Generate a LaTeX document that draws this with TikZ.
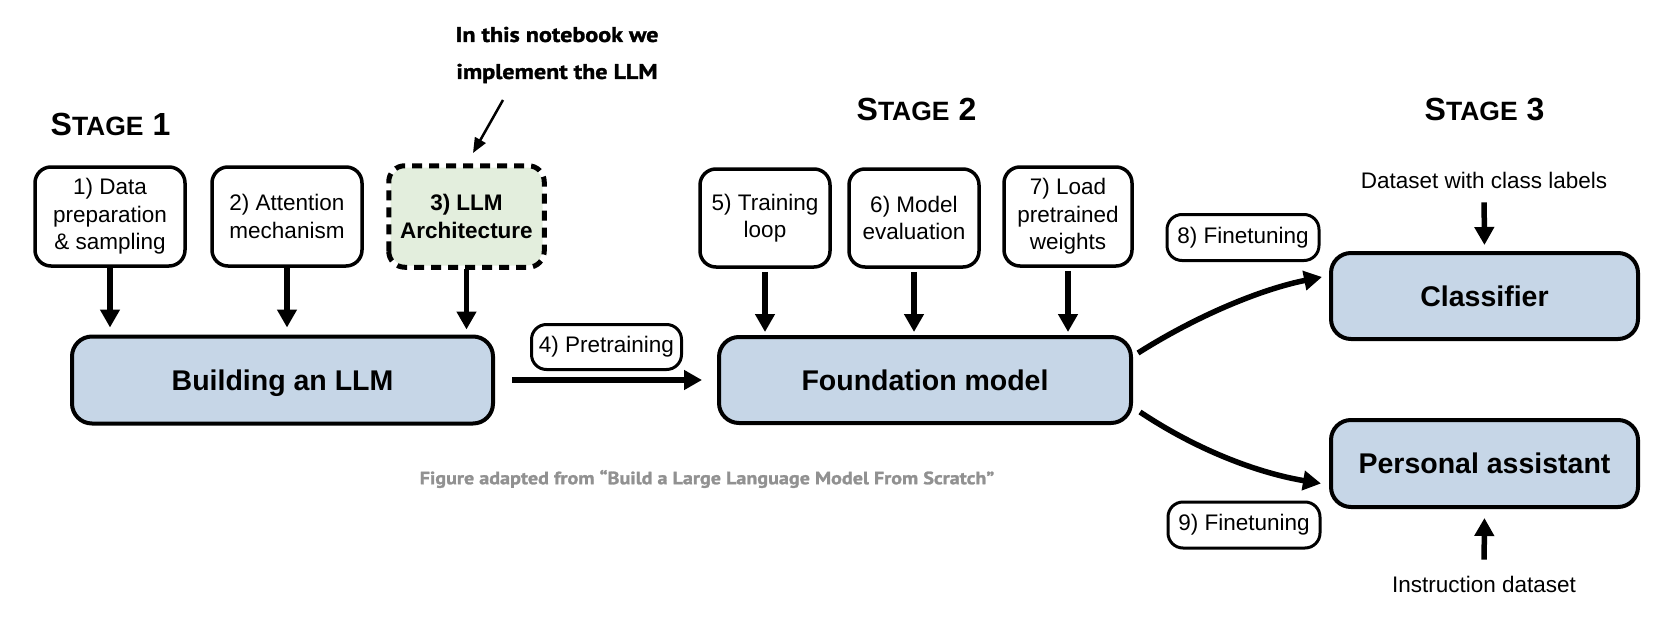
\documentclass[tikz,border=0pt]{standalone}
\usepackage{fontspec}
\setmainfont{Liberation Sans}
\newfontfamily\notefont{PT Sans}[BoldFeatures={FakeStretch=1.13,FakeBold=1.5}]
\usetikzlibrary{arrows.meta,calc}
\definecolor{boxblue}{RGB}{198,214,231}
\definecolor{boxgreen}{RGB}{227,238,221}
\definecolor{capgray}{RGB}{145,145,145}
\newcommand{\stagelabel}[1]{{\bfseries\fontsize{32}{36}\selectfont S\fontsize{26.5}{30}\selectfont TAGE\fontsize{32}{36}\selectfont\ #1}}
\begin{document}
\begin{tikzpicture}[x=1pt,y=-1pt,
  smallbox/.style={draw=black, line width=3.5pt, rounded corners=16pt, fill=white, align=center, inner sep=0pt, font=\fontsize{22.5}{27.5}\selectfont},
  bigbox/.style={draw=black, line width=4pt, rounded corners=20pt, fill=boxblue, inner sep=0pt, text depth=0pt, font=\bfseries\fontsize{28.5}{32}\selectfont},
  labbox/.style={draw=black, line width=3pt, rounded corners=15pt, fill=white, inner sep=0pt, font=\fontsize{22.5}{27}\selectfont},
  plain/.style={inner sep=0pt, font=\fontsize{22.5}{27}\selectfont},
  arr/.style={line width=5.5pt, -{Triangle[width=19pt,length=18pt]}},
  thinarr/.style={line width=2.5pt, -{Triangle[width=12pt,length=15pt]}},
  stagetxt/.style={inner sep=0pt, anchor=base}
]
\useasboundingbox (0,0) rectangle (1668,642);

% stage titles
\node[stagetxt] (s1) at (110.5,135) {\stagelabel{1}};
\node[stagetxt] (s2) at (916.5,120) {\stagelabel{2}};
\node[stagetxt] (s3) at (1484.5,120) {\stagelabel{3}};

% annotation
\node[inner sep=0pt, align=center, font=\notefont\bfseries\fontsize{21.3}{37}\selectfont] (note) at (557,55) {In this notebook we\\implement the LLM};
\coordinate (ntail) at (503,100);
\coordinate (nhead) at (473,153);
\draw[thinarr] (ntail) -- (nhead);

% stage 1 boxes
\node[smallbox, minimum width=150pt, minimum height=99pt] (b1) at (110,216.5) {1) Data\\preparation\\\& sampling};
\node[smallbox, minimum width=150pt, minimum height=99pt] (b2) at (287,216.5) {2) Attention\\mechanism};
\node[smallbox, draw=none, fill=boxgreen, minimum width=152pt, minimum height=98pt, font=\bfseries\fontsize{22.5}{27.5}\selectfont] (b3) at (466.5,216.5) {3) LLM\\Architecture};
\draw[line width=5pt, dash pattern=on 10pt off 7pt, rounded corners=16pt] (b3.south west) rectangle (b3.north east);

\node[bigbox, minimum width=421pt, minimum height=87pt] (build) at (282.5,380) {Building an LLM};

\draw[arr, shorten >=7pt] (b1.south) -- (b1.south |- build.north);
\draw[arr, shorten >=7pt] (b2.south) -- (b2.south |- build.north);
\draw[arr, shorten <=2pt, shorten >=5pt] (b3.south) -- (b3.south |- build.north);

% pretraining
\node[labbox, minimum width=150pt, minimum height=45pt] (pre) at (606.5,347) {4) Pretraining};
\node[bigbox, minimum width=412pt, minimum height=86pt] (found) at (925,380) {Foundation model};
\draw[arr, shorten <=17pt, shorten >=15pt] (build.east) -- (found.west);

% stage 2 boxes
\node[smallbox, minimum width=130pt, minimum height=98pt] (b5) at (765,218) {5) Training\\loop};
\node[smallbox, minimum width=130pt, minimum height=98pt] (b6) at (914,218) {6) Model\\evaluation};
\node[smallbox, minimum width=128pt, minimum height=99pt] (b7) at (1068,216.5) {7) Load\\pretrained\\weights};
\draw[arr, shorten <=3pt, shorten >=3pt] (b5.south) -- (b5.south |- found.north);
\draw[arr, shorten <=3pt, shorten >=3pt] (b6.south) -- (b6.south |- found.north);
\draw[arr, shorten <=3pt, shorten >=3pt] (b7.south) -- (b7.south |- found.north);

% stage 3
\node[bigbox, minimum width=307pt, minimum height=86pt] (cls) at (1484.5,296) {Classifier};
\node[bigbox, minimum width=307pt, minimum height=87pt] (pa) at (1484.5,463.5) {Personal assistant};
\node[labbox, minimum width=152pt, minimum height=46pt] (ft8) at (1243,237.5) {8) Finetuning};
\node[labbox, minimum width=152pt, minimum height=46pt] (ft9) at (1244,525) {9) Finetuning};

\draw[arr] ($(found.east)+(5,-27)$) .. controls +(60,-38) and +(-60,12) .. ($(cls.west)+(-7,-19)$);
\draw[arr] ($(found.east)+(7,32)$) .. controls +(60,40) and +(-60,-10) .. ($(pa.west)+(-8,20)$);

\node[plain] (ds) at (1484,180) {Dataset with class labels};
\draw[arr, shorten <=14pt, shorten >=6pt] (ds.south) -- (cls.north);
\node[plain] (ins) at (1484,584) {Instruction dataset};
\draw[arr, shorten <=16pt, shorten >=9pt] (ins.north) -- (pa.south);

% caption
\node[inner sep=0pt, text=capgray, font=\notefont\bfseries\fontsize{17.8}{22}\selectfont] (cap) at (707,479) {Figure adapted from “Build a Large Language Model From Scratch”};
\end{tikzpicture}
\end{document}
